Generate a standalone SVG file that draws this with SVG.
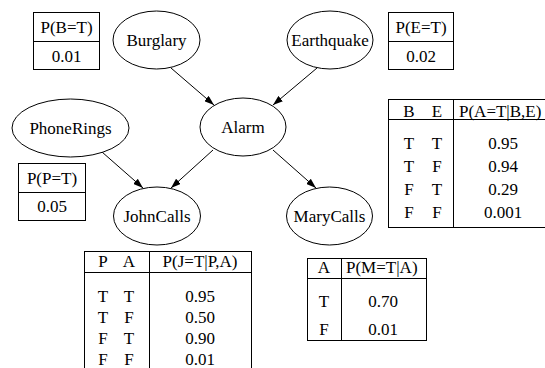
<svg xmlns="http://www.w3.org/2000/svg" width="545" height="368" viewBox="0 0 545 368">
<defs>
<marker id="ah" markerWidth="10" markerHeight="7" refX="10" refY="3.5" orient="auto" markerUnits="userSpaceOnUse">
<path d="M0,0 L10,3.5 L0,7 z" fill="#000"/>
</marker>
<style>
text{font-family:"Liberation Serif","Times New Roman",serif;font-size:17px;fill:#000}
.c{text-anchor:middle}
.n ellipse{fill:#fff;stroke:#000;stroke-width:1}
.t rect,.t line{fill:none;stroke:#000;stroke-width:1}
.e line{stroke:#000;stroke-width:1;marker-end:url(#ah)}
</style>
</defs>
<rect width="545" height="368" fill="#fff"/>
<g id="connectors" class="e">
<line x1="171" y1="68" x2="214" y2="105"/>
<line x1="317" y1="68" x2="273" y2="105"/>
<line x1="102" y1="152" x2="143" y2="188"/>
<line x1="213" y1="150" x2="171" y2="188"/>
<line x1="273" y1="150" x2="316" y2="188"/>
</g>
<g id="Burglary" class="n"><ellipse cx="156.5" cy="40" rx="43.5" ry="29"/><text class="c" x="156.5" y="46">Burglary</text></g>
<g id="Earthquake" class="n"><ellipse cx="330" cy="40" rx="43" ry="29"/><text class="c" x="330" y="46">Earthquake</text></g>
<g id="Alarm" class="n"><ellipse cx="243" cy="127" rx="43" ry="29"/><text class="c" x="243" y="133">Alarm</text></g>
<g id="PhoneRings" class="n"><ellipse cx="70.5" cy="128" rx="58.5" ry="29"/><text class="c" x="70.5" y="134">PhoneRings</text></g>
<g id="JohnCalls" class="n"><ellipse cx="157" cy="216" rx="43.5" ry="29"/><text class="c" x="157" y="222">JohnCalls</text></g>
<g id="MaryCalls" class="n"><ellipse cx="329.5" cy="216" rx="43" ry="29"/><text class="c" x="329.5" y="222">MaryCalls</text></g>

<g id="cpt-B" class="t">
<rect x="33.5" y="12.5" width="66" height="57"/><line x1="33.5" y1="41.5" x2="99.5" y2="41.5"/>
<text class="c" x="66.5" y="33">P(B=T)</text><text class="c" x="66.5" y="61.5">0.01</text>
</g>
<g id="cpt-E" class="t">
<rect x="388.5" y="12.5" width="65" height="57"/><line x1="388.5" y1="41.5" x2="453.5" y2="41.5"/>
<text class="c" x="421" y="33">P(E=T)</text><text class="c" x="421" y="61.5">0.02</text>
</g>
<g id="cpt-P" class="t">
<rect x="18.5" y="163.5" width="67" height="57"/><line x1="18.5" y1="192.5" x2="85.5" y2="192.5"/>
<text class="c" x="52" y="184">P(P=T)</text><text class="c" x="52" y="212">0.05</text>
</g>
<g id="cpt-A" class="t">
<rect x="388.5" y="99.5" width="170" height="128"/><line x1="388.5" y1="119.5" x2="558.5" y2="119.5"/><line x1="453.5" y1="99.5" x2="453.5" y2="227.5"/>
<text class="c" x="409" y="116.5">B</text><text class="c" x="437" y="116.5">E</text><text x="459" y="116.5">P(A=T|B,E)</text>
<text class="c" x="409" y="149">T</text><text class="c" x="437" y="149">T</text><text class="c" x="503" y="149">0.95</text>
<text class="c" x="409" y="172">T</text><text class="c" x="437" y="172">F</text><text class="c" x="503" y="172">0.94</text>
<text class="c" x="409" y="195">F</text><text class="c" x="437" y="195">T</text><text class="c" x="503" y="195">0.29</text>
<text class="c" x="409" y="218">F</text><text class="c" x="437" y="218">F</text><text class="c" x="503" y="218">0.001</text>
</g>
<g id="cpt-J" class="t">
<rect x="84.5" y="251.5" width="167" height="130"/><line x1="84.5" y1="272.5" x2="251.5" y2="272.5"/><line x1="149.5" y1="251.5" x2="149.5" y2="381"/>
<text class="c" x="103" y="267">P</text><text class="c" x="129" y="267">A</text><text class="c" x="200" y="267">P(J=T|P,A)</text>
<text class="c" x="103" y="302">T</text><text class="c" x="129" y="302">T</text><text class="c" x="200" y="302">0.95</text>
<text class="c" x="103" y="323">T</text><text class="c" x="129" y="323">F</text><text class="c" x="200" y="323">0.50</text>
<text class="c" x="103" y="344">F</text><text class="c" x="129" y="344">T</text><text class="c" x="200" y="344">0.90</text>
<text class="c" x="103" y="365">F</text><text class="c" x="129" y="365">F</text><text class="c" x="200" y="365">0.01</text>
</g>
<g id="cpt-M" class="t">
<rect x="307.5" y="258.5" width="119" height="82"/><line x1="307.5" y1="278.5" x2="426.5" y2="278.5"/><line x1="341.5" y1="258.5" x2="341.5" y2="340.5"/>
<text class="c" x="324" y="273">A</text><text x="346" y="273">P(M=T|A)</text>
<text class="c" x="324" y="307">T</text><text class="c" x="383" y="307">0.70</text>
<text class="c" x="324" y="335">F</text><text class="c" x="383" y="335">0.01</text>
</g>
</svg>
